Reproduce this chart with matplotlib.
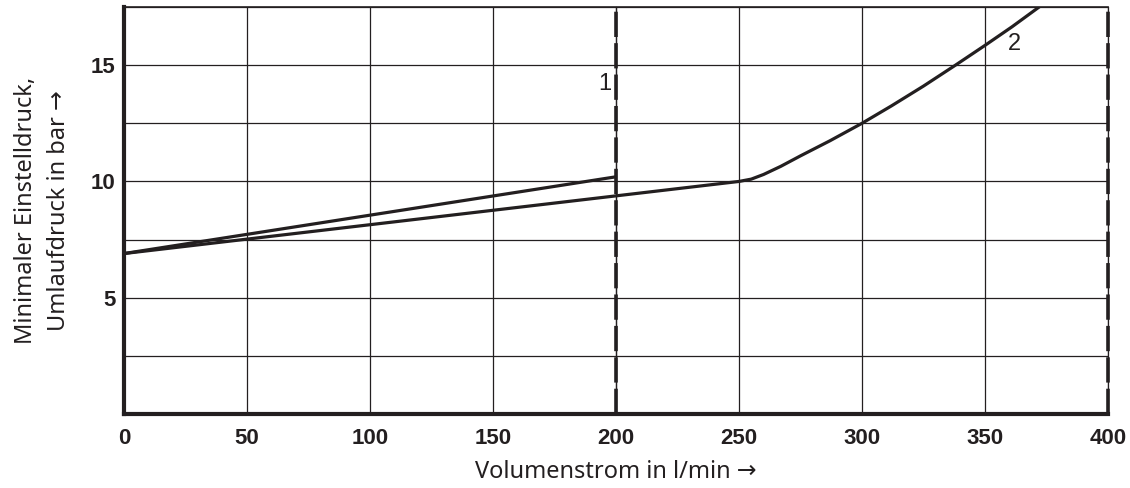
import numpy as np
import matplotlib
matplotlib.use("Agg")
from matplotlib import pyplot as plt
from matplotlib.ticker import MultipleLocator

# Kennlinien
x_curve1 = [0, 200]
y_curve1 = [6.9, 10.2]

x_curve2 = [0, 250, 255, 260, 267, 275, 287, 300, 312, 325, 338, 350, 361, 372]
y_curve2 = [6.9, 10.0, 10.1, 10.3, 10.65, 11.1, 11.75, 12.5, 13.25, 14.1, 15.0, 15.85, 16.65, 17.5]

x_limits = [200, 400]   # gestrichelte Grenzlinien
x_ticks = [0, 50, 100, 150, 200, 250, 300, 350, 400]
y_ticks = [5, 10, 15]

ink = "#231f20"

fig = plt.figure(figsize=(11.3, 4.88), dpi=100)
ax = fig.add_axes([0.1097, 0.1516, 0.8708, 0.834])

ax.set_xlim(0, 400)
ax.set_ylim(0, 17.5)

# Gitter
ax.yaxis.set_minor_locator(MultipleLocator(2.5))
ax.set_xticks(x_ticks)
ax.set_yticks(y_ticks)
ax.grid(True, which="both", color=ink, linewidth=0.9)
ax.set_axisbelow(True)

ax.plot(x_curve1, y_curve1, color=ink, lw=2.3, solid_capstyle="butt", zorder=3)
ax.plot(x_curve2, y_curve2, color=ink, lw=2.3, zorder=3)

for xv in x_limits:
    ax.axvline(xv, color=ink, lw=0.9, zorder=2, clip_on=False)
    ax.axvline(xv, color=ink, lw=2.6, dashes=(7, 1.7), zorder=4, clip_on=False)

ax.text(198, 14.2, "1", ha="right", va="center", fontsize=17, color=ink,
        family=["Liberation Sans Narrow", "Liberation Sans"])
ax.text(362, 15.9, "2", ha="center", va="center", fontsize=17, color=ink,
        family=["Liberation Sans Narrow", "Liberation Sans"])

for side in ["left", "bottom"]:
    ax.spines[side].set_linewidth(3)
    ax.spines[side].set_color(ink)
ax.spines["top"].set_linewidth(1.2)
ax.spines["top"].set_color(ink)
ax.spines["right"].set_visible(False)

ax.tick_params(which="both", length=0, colors=ink)
ax.tick_params(axis="x", pad=10)
ax.tick_params(axis="y", pad=6)
for lab in ax.get_xticklabels() + ax.get_yticklabels():
    lab.set_fontweight("bold")
    lab.set_fontsize(16)
    lab.set_family(["Liberation Sans Narrow", "Liberation Sans"])

ax.set_xlabel("Volumenstrom in l/min →", fontsize=17, color=ink,
              family=["Noto Sans", "DejaVu Sans"], labelpad=8)
ax.set_ylabel("Minimaler Einstelldruck,\nUmlaufdruck in bar →", fontsize=17,
              color=ink, family=["Noto Sans", "DejaVu Sans"], labelpad=14,
              linespacing=1.5)

fig.savefig("out.png", dpi=100)
